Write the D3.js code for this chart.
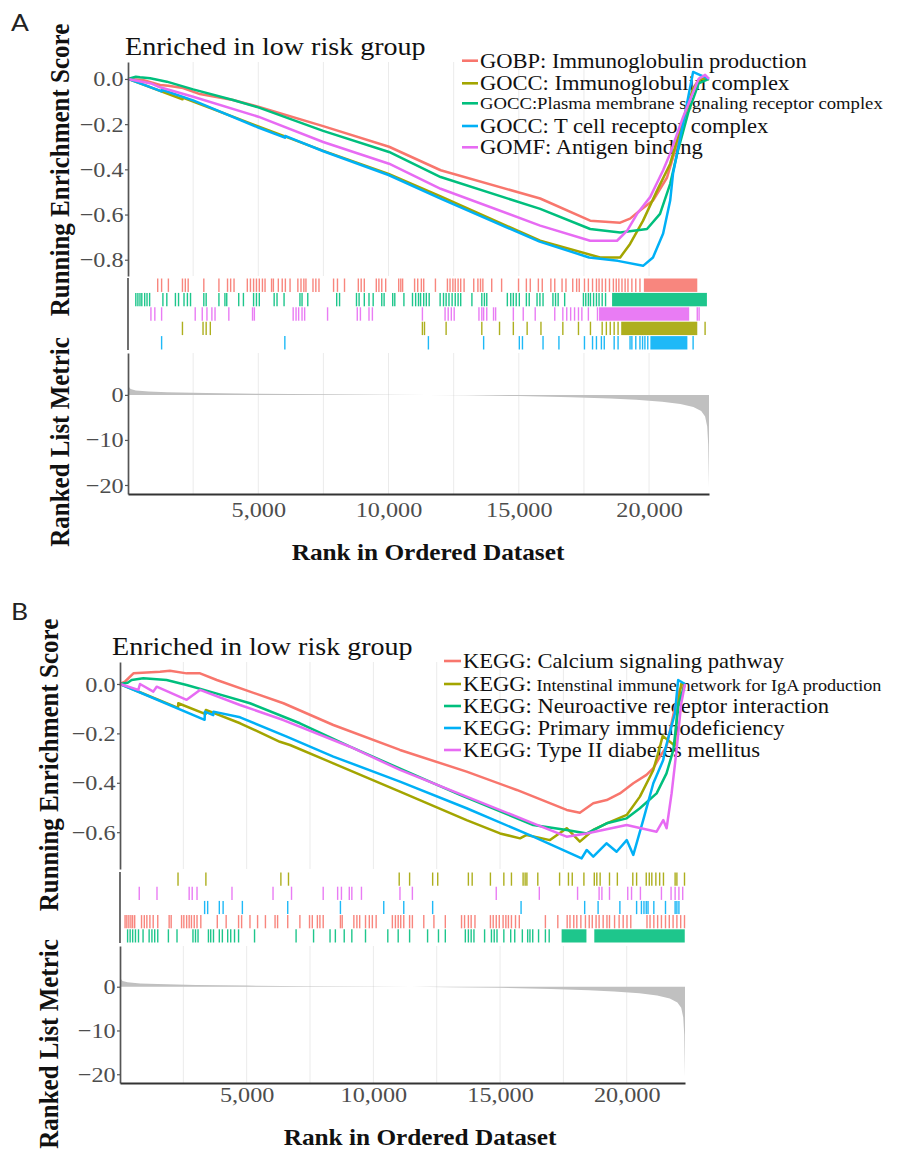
<!DOCTYPE html>
<html>
<head>
<meta charset="utf-8">
<title>GSEA enrichment plots</title>
<script src="https://cdn.jsdelivr.net/npm/d3@7/dist/d3.min.js"></script>
<style>
  body { margin: 0; background: #fff; }
  svg text { font-family: "Liberation Serif", "Times New Roman", serif; }
</style>
</head>
<body>
<svg id="chart" width="901" height="1153"></svg>
<script>
// ---- values (ranks 1..nGenes) ----
const nGenes = 22300;
const rankTicks = [5000, 10000, 15000, 20000];
const esTicksA = [0, -0.2, -0.4, -0.6, -0.8];
const esTicksB = [0, -0.2, -0.4, -0.6];
const metricTicks = [0, -10, -20];

// ranked list metric, same ranking in both panels
const metricRanks  = [1, 100, 300, 800, 1500, 3000, 5000, 7500, 10000, 11500, 13000, 15000, 17000, 18500, 19500, 20500, 21200, 21700, 22000, 22150, 22230, 22270, 22300];
const metricValues = [2.0, 1.3, 1.0, 0.75, 0.6, 0.4, 0.25, 0.12, 0.04, 0, -0.1, -0.25, -0.5, -0.8, -1.1, -1.5, -2.0, -2.7, -3.6, -4.8, -7, -11, -20.5];

const panelTitle = 'Enriched in low risk group';

// Panel A: GO sets
const setLabelsA = [
    'GOBP: Immunoglobulin production',
    'GOCC: Immunoglobulin complex',
    'GOCC:Plasma membrane signaling receptor complex',
    'GOCC: T cell receptor complex',
    'GOMF: Antigen binding'
];

const esImmProd = [[0,0],[600,-0.005],[1230,-0.027],[1550,-0.03],[2110,-0.04],[2760,-0.067],[4030,-0.093],[5000,-0.123],[7490,-0.209],[10020,-0.30],[12000,-0.404],[15820,-0.529],[17740,-0.627],[18890,-0.636],[19270,-0.618],[19650,-0.582],[20150,-0.538],[20690,-0.436],[20920,-0.347],[21300,-0.2],[21700,-0.04],[21950,0.005],[22300,0]];
const esImmComplex = [[0,0],[2090,-0.09],[2100,-0.082],[5000,-0.21],[7500,-0.318],[10000,-0.42],[12000,-0.52],[15820,-0.716],[18120,-0.79],[18890,-0.79],[19270,-0.73],[19770,-0.627],[20310,-0.493],[20810,-0.375],[21200,-0.22],[21700,-0.04],[22000,0.0],[22300,0]];
const esPlasma = [[0,0],[300,0.01],[460,0.0075],[850,0.003],[1490,-0.012],[2500,-0.046],[4030,-0.093],[5000,-0.126],[7490,-0.23],[10020,-0.323],[12000,-0.434],[15820,-0.575],[17740,-0.664],[18890,-0.679],[19920,-0.664],[20420,-0.597],[20810,-0.464],[21080,-0.33],[21500,-0.15],[21900,-0.02],[22300,0]];
const esTcell = [[0,0],[1290,-0.055],[1300,-0.048],[2500,-0.095],[5000,-0.215],[6020,-0.26],[6030,-0.252],[7500,-0.32],[10000,-0.425],[12000,-0.53],[15800,-0.72],[17700,-0.79],[18800,-0.805],[19770,-0.827],[20150,-0.79],[20540,-0.684],[20810,-0.538],[20920,-0.418],[21300,-0.2],[21690,0.031],[21900,0.02],[22300,0]];
const esAntigen = [[0,0],[880,-0.02],[1230,-0.037],[2500,-0.079],[5000,-0.167],[7490,-0.279],[10020,-0.375],[12000,-0.486],[15820,-0.649],[17740,-0.716],[18770,-0.716],[19160,-0.671],[19540,-0.597],[20040,-0.523],[20540,-0.404],[20810,-0.33],[21300,-0.17],[21900,0.0],[22150,0.018],[22300,0]];

const hitsImmProd = [1140,1290,1550,2090,2200,2310,2910,3490,3820,3940,4070,4580,4700,4820,4930,5040,5160,5260,5510,5580,5770,5920,6040,6220,6520,6640,6750,6830,7100,7210,7330,7890,8040,8310,8840,8950,9070,9530,9630,9740,9890,10390,10470,10540,11000,11120,11260,11350,11800,12260,12360,12470,12560,12670,12770,12900,13270,13430,13530,13620,13960,14340,14990,15290,15440,15750,15900,16230,16380,16660,16810,17070,17220,17320,17520,17670,17830,17980,18080,18200,18330,18480,18630,18740,18840,18960,19080,19190,19340,19490,19650];
const blocksImmProd = [[19800, 21850]];
const hitsImmComplex = [2090,2880,3000,3160,11300,11380,12210,13580,14260,14790,15320,15850,16690,17290,17750,18200,18360,18510,18660,18810,22150];
const blocksImmComplex = [[18930, 21850]];
const hitsPlasma = [300,380,460,530,640,730,830,1340,1490,1820,1940,2150,2280,2400,2910,3000,3490,3720,3790,4250,4430,4820,4930,5040,5610,5720,5990,6600,6680,6900,8010,8120,8770,8870,9070,9250,9410,9740,9830,10160,10240,10590,10920,11040,11150,11230,11350,11450,11560,11980,12110,12210,12320,12440,12560,12670,12770,13200,13580,13680,13770,14560,14690,14790,14900,15020,15290,15400,15700,15810,15930,16310,16410,16510,16760,17480,17570,17670,17750,17870,17980,18080,18200,18330];
const blocksPlasma = [[18580, 22220]];
const hitsTcell = [1290,6020,11530,13650,15020,15140,15930,16540,17520,17830,17980,18170,18280,18660,18810,19270,19340,19490,19650,19750,19840,19950,21690];
const blocksTcell = [[20050, 21470]];
const hitsAntigen = [880,1030,1290,2580,2850,3030,3220,3340,3870,4780,4850,6340,6450,6550,6680,6780,7660,8800,8920,9250,9380,11300,12170,12290,12410,12520,13470,13580,13650,13770,14030,14110,14790,15170,15630,16380,16690,16840,16990,17140,17290,17420,17670,18020,21850,21920];
const blocksAntigen = [[18080, 21540]];

// Panel B: KEGG sets
const setLabelsB = [
    'KEGG: Calcium signaling pathway',
    'KEGG: Intenstinal immune network for IgA production',
    'KEGG: Neuroactive receptor interaction',
    'KEGG: Primary immunodeficiency',
    'KEGG: Type II diabetes mellitus'
];

const esCalcium = [[0,0],[200,0.01],[530,0.043],[1580,0.05],[1970,0.054],[2630,0.043],[3160,0.043],[3820,0.016],[5130,-0.031],[6450,-0.078],[8420,-0.166],[11050,-0.267],[13680,-0.355],[15660,-0.429],[17630,-0.51],[18150,-0.521],[18680,-0.483],[19210,-0.47],[19730,-0.443],[20260,-0.402],[20780,-0.368],[21050,-0.341],[21310,-0.294],[21570,-0.254],[21850,-0.12],[22100,-0.02],[22300,0]];
const esIgA = [[0,0],[2290,-0.097],[2300,-0.078],[3380,-0.122],[3390,-0.105],[4740,-0.159],[6310,-0.234],[6710,-0.247],[8420,-0.321],[11050,-0.436],[13680,-0.551],[15000,-0.605],[15790,-0.625],[16050,-0.611],[16970,-0.632],[17630,-0.584],[18150,-0.638],[18680,-0.591],[19210,-0.564],[20000,-0.53],[20520,-0.456],[21050,-0.348],[21310,-0.254],[21420,-0.21],[21900,-0.25],[22000,-0.1],[22150,0.0],[22300,0]];
const esNeuro = [[0,0],[300,0.005],[460,0.016],[920,0.023],[1840,0.016],[2630,-0.004],[3550,-0.031],[5130,-0.078],[7100,-0.159],[9080,-0.254],[13420,-0.449],[16310,-0.571],[17630,-0.591],[18420,-0.605],[19210,-0.564],[20000,-0.544],[20520,-0.503],[21180,-0.443],[21570,-0.362],[21840,-0.267],[22050,-0.08],[22300,0]];
const esPrimary = [[0,0],[3340,-0.145],[3350,-0.112],[3680,-0.126],[3690,-0.112],[4740,-0.135],[6580,-0.213],[8420,-0.294],[11050,-0.395],[13680,-0.503],[16310,-0.618],[18220,-0.706],[18420,-0.672],[18680,-0.699],[19200,-0.645],[19600,-0.679],[20000,-0.632],[20260,-0.692],[20650,-0.551],[21050,-0.402],[21440,-0.308],[21530,-0.26],[21900,-0.12],[22030,0.016],[22300,0]];
const esDiabetes = [[0,0],[723,-0.024],[789,0],[1315,-0.031],[1447,-0.011],[2630,-0.064],[3157,-0.024],[4736,-0.085],[6445,-0.146],[9077,-0.254],[11050,-0.348],[13680,-0.456],[16311,-0.564],[17628,-0.618],[18416,-0.605],[19995,-0.571],[21179,-0.598],[21442,-0.551],[21574,-0.584],[21771,-0.443],[21968,-0.267],[22150,-0.08],[22300,0]];

const hitsCalcium = [200,270,350,430,500,580,850,960,1060,1180,1310,1490,1940,2020,2430,2520,2630,2730,2820,2930,3040,3190,3840,4190,4680,4800,5130,5430,5740,6120,6220,6620,7100,7480,7590,7790,7890,8020,8700,8770,9230,9350,9460,9690,9840,9960,10110,10750,10870,10980,11080,11200,11430,11540,11990,12390,12840,13480,13600,13750,13860,14010,14620,14730,14850,14970,15120,15230,15330,15450,15610,15760,16790,17280,17650,17760,17910,18030,18190,18370,18520,18640,18790,18910,19070,19220,19320,19520,19700,19860,20010,20160,20800,20920,21070,21220,21370,21530,21680,21830,21980,22130,22280];
const blocksCalcium = [];
const hitsIgA = [2290,3390,6350,6650,11020,11430,12340,12540,13750,13900,14620,15150,15450,15910,15990,16060,16490,17350,17700,17850,18310,18720,18820,18950,19320,19630,20240,20390,20770,20890,20990,21150,21300,21450,21910,21980,22280];
const blocksIgA = [];
const hitsNeuro = [300,400,500,610,730,910,1150,1260,1370,1490,1910,2250,2880,2980,3080,3490,3580,3690,3920,4040,4250,4370,4520,4680,5310,6950,7640,8290,8500,8850,9150,9690,10570,10980,11430,12140,12570,12840,13630,13750,13860,13970,14390,14660,14770,14880,15150,15420,15580,15880,16090,16180,16290,16520,16790,16940];
const blocksNeuro = [[17430, 18410], [18720, 22290]];
const hitsPrimary = [3340,3460,3920,4070,4830,6620,8700,10410,11200,12340,15830,18340,18870,19730,20390,20580,20680,20770,20840,21070,21530,21910,21980,22060];
const blocksPrimary = [];
const hitsDiabetes = [760,1460,2730,2850,3040,4420,6040,6770,8020,8590,8740,9050,9150,9530,11050,11540,14850,16550,18060,18910,19020,19320,20040,20190,20540,21370,21750,21910,22060,22210];
const blocksDiabetes = [];

// ---- styling ----
const palette = {red: '#F8766D', olive: '#A3A500', green: '#00BF7D', blue: '#00B0F6', magenta: '#E76BF3'};
const SX = 1.1;          // the source figure is a little stretched horizontally
const axisColor = '#555555';
const tickTextColor = '#4d4d4d';

const svg = d3.select('#chart');

class GseaPanel {
    constructor(cfg) {
        this.cfg = cfg;
        this.g = svg.append('g').attr('class', 'panel-' + cfg.tag);
        this.x = d3.scaleLinear().domain([0, nGenes]).range([cfg.left, cfg.right]);
        this.yEs = d3.scaleLinear().domain(cfg.esDomain).range([cfg.esBottom, cfg.esTop]);
        this.yRk = d3.scaleLinear().domain([-22, 9.3]).range([cfg.rkBottom, cfg.rkTop]);
    }

    draw() {
        this.drawGrid();
        this.drawLegend();
        this.drawCurves();
        this.drawRug();
        this.drawMetric();
        this.drawAxes();
        this.drawTitles();
    }

    drawGrid() {
        let cfg = this.cfg;
        let gridRanks = d3.range(2500, nGenes, 2500);
        [[cfg.esTop, cfg.esBottom], [cfg.rkTop, cfg.rkBottom]].forEach((span) => {
            this.g.append('g')
                .selectAll('line')
                .data(gridRanks)
                .enter()
                .append('line')
                .attr('x1', (d) => this.x(d))
                .attr('x2', (d) => this.x(d))
                .attr('y1', span[0])
                .attr('y2', span[1])
                .attr('stroke', '#ebebeb')
                .attr('stroke-width', 1);
        });
    }

    drawLegend() {
        let cfg = this.cfg;
        let legend = this.g.append('g').attr('class', 'legend');
        cfg.legend.rows.forEach((cy, i) => {
            let s = cfg.sets[i];
            legend.append('line')
                .attr('x1', cfg.legend.x)
                .attr('x2', cfg.legend.x + cfg.legend.keyLen)
                .attr('y1', cy)
                .attr('y2', cy)
                .attr('stroke', s.color)
                .attr('stroke-width', 2.6);
            let base = (s.smallFrom === 0) ? cy + 5.5 : cy + 7;
            let t = legend.append('text')
                .attr('transform', `translate(${cfg.legend.x + cfg.legend.keyLen + 2},${base}) scale(${SX},1)`)
                .attr('font-size', 20.5)
                .attr('fill', '#111');
            if (s.smallFrom == null) {
                t.text(s.label);
            } else {
                t.append('tspan').text(s.label.slice(0, s.smallFrom));
                t.append('tspan').attr('font-size', cfg.legend.smallSize).text(s.label.slice(s.smallFrom));
            }
        });
    }

    drawCurves() {
        let line = d3.line()
            .x((d) => this.x(d[0]))
            .y((d) => this.yEs(d[1]));
        this.g.append('g')
            .selectAll('path')
            .data(this.cfg.sets)
            .enter()
            .append('path')
            .attr('d', (d) => line(d.es))
            .attr('fill', 'none')
            .attr('stroke', (d) => d.color)
            .attr('stroke-width', 2.5)
            .attr('stroke-linejoin', 'round');
    }

    drawRug() {
        let cfg = this.cfg;
        let rowH = (cfg.rugBottom - cfg.rugTop) / cfg.rugOrder.length;
        cfg.rugOrder.forEach((si, row) => {
            let s = cfg.sets[si];
            let y0 = cfg.rugTop + row * rowH;
            let rowG = this.g.append('g').attr('opacity', 0.88);
            rowG.selectAll('line')
                .data(s.hits)
                .enter()
                .append('line')
                .attr('x1', (d) => this.x(d))
                .attr('x2', (d) => this.x(d))
                .attr('y1', y0 + 0.5)
                .attr('y2', y0 + rowH - 0.5)
                .attr('stroke', s.color)
                .attr('stroke-width', 1.4);
            rowG.selectAll('rect')
                .data(s.blocks)
                .enter()
                .append('rect')
                .attr('x', (d) => this.x(d[0]))
                .attr('width', (d) => this.x(d[1]) - this.x(d[0]))
                .attr('y', y0 + 0.5)
                .attr('height', rowH - 1)
                .attr('fill', s.color);
        });
    }

    drawMetric() {
        let pts = metricRanks.map((r, i) => [r, metricValues[i]]);
        let area = d3.area()
            .x((d) => this.x(d[0]))
            .y0(this.yRk(0))
            .y1((d) => this.yRk(d[1]));
        this.g.append('path')
            .attr('d', area(pts))
            .attr('fill', '#c0c0c0')
            .attr('stroke', 'none');
    }

    styleAxis(sel, size) {
        sel.attr('font-family', null).attr('font-size', null);
        sel.select('.domain').attr('stroke', axisColor).attr('stroke-width', 1.7);
        sel.selectAll('.tick line').attr('stroke', axisColor).attr('stroke-width', 1.2);
        sel.selectAll('.tick text')
            .attr('fill', tickTextColor)
            .attr('font-size', size)
            .attr('transform', `scale(${SX},1)`);
    }

    drawAxes() {
        let cfg = this.cfg;
        let esAxis = d3.axisLeft(this.yEs)
            .tickValues(cfg.esTicks)
            .tickFormat(d3.format('.1f'))
            .tickSize(3)
            .tickSizeOuter(0)
            .tickPadding(1);
        let a1 = this.g.append('g').attr('transform', `translate(${cfg.left},0)`).call(esAxis);
        this.styleAxis(a1, 22);

        // rug panel only has its axis line
        this.g.append('line')
            .attr('x1', cfg.left).attr('x2', cfg.left)
            .attr('y1', cfg.rugTop).attr('y2', cfg.rugBottom)
            .attr('stroke', axisColor).attr('stroke-width', 1.7);

        let rkAxis = d3.axisLeft(this.yRk)
            .tickValues(metricTicks)
            .tickFormat(d3.format('d'))
            .tickSize(3)
            .tickSizeOuter(0)
            .tickPadding(1);
        let a2 = this.g.append('g').attr('transform', `translate(${cfg.left},0)`).call(rkAxis);
        this.styleAxis(a2, 22);

        let xAxis = d3.axisBottom(this.x)
            .tickValues(rankTicks)
            .tickFormat(d3.format(','))
            .tickSize(0)
            .tickSizeOuter(0);
        let a3 = this.g.append('g').attr('transform', `translate(0,${cfg.rkBottom})`).call(xAxis);
        this.styleAxis(a3, 22);
        a3.select('.domain').attr('stroke', '#333').attr('stroke-width', 1.9);
        a3.selectAll('.tick text')
            .attr('y', cfg.xLabelY - cfg.rkBottom)
            .attr('dy', null);
    }

    drawTitles() {
        let cfg = this.cfg;
        svg.append('text')
            .attr('transform', `translate(${cfg.tagPos[0]},${cfg.tagPos[1]}) scale(${SX},1)`)
            .style('font-family', 'Lato, "Open Sans", sans-serif')
            .attr('font-size', 24)
            .attr('fill', '#222')
            .text(cfg.tag);

        this.g.append('text')
            .attr('transform', `translate(${cfg.titlePos[0]},${cfg.titlePos[1]}) scale(${SX},1)`)
            .attr('font-size', 25.5)
            .attr('fill', '#111')
            .text(panelTitle);

        this.g.append('text')
            .attr('transform', `translate(${cfg.xTitlePos[0]},${cfg.xTitlePos[1]}) scale(${SX},1)`)
            .attr('text-anchor', 'middle')
            .attr('font-size', 23)
            .attr('font-weight', 'bold')
            .attr('fill', '#111')
            .text('Rank in Ordered Dataset');

        [['Running Enrichment Score', cfg.esTitleY], ['Ranked List Metric', cfg.rkTitleY]].forEach((t) => {
            this.g.append('text')
                .attr('transform', `translate(${cfg.yTitleX},${t[1]}) scale(${SX},1) rotate(-90)`)
                .attr('text-anchor', 'middle')
                .attr('font-size', 25)
                .attr('font-weight', 'bold')
                .attr('fill', '#111')
                .text(t[0]);
        });
    }
}

const panelA = new GseaPanel({
    tag: 'A', tagPos: [11, 31],
    left: 128, right: 709,
    esTop: 62, esBottom: 276, esDomain: [-0.872, 0.075], esTicks: esTicksA,
    rugTop: 278, rugBottom: 350,
    rkTop: 353, rkBottom: 494,
    xLabelY: 517, xTitlePos: [428, 560],
    yTitleX: 69, esTitleY: 170, rkTitleY: 442,
    titlePos: [125, 55],
    legend: {x: 462, keyLen: 16, smallSize: 17, rows: [60.7, 83.3, 103.3, 126, 147.3]},
    rugOrder: [0, 2, 4, 1, 3],
    sets: [
        {label: setLabelsA[0], color: palette.red, es: esImmProd, hits: hitsImmProd, blocks: blocksImmProd},
        {label: setLabelsA[1], color: palette.olive, es: esImmComplex, hits: hitsImmComplex, blocks: blocksImmComplex},
        {label: setLabelsA[2], color: palette.green, es: esPlasma, hits: hitsPlasma, blocks: blocksPlasma, smallFrom: 0},
        {label: setLabelsA[3], color: palette.blue, es: esTcell, hits: hitsTcell, blocks: blocksTcell},
        {label: setLabelsA[4], color: palette.magenta, es: esAntigen, hits: hitsAntigen, blocks: blocksAntigen}
    ]
});

const panelB = new GseaPanel({
    tag: 'B', tagPos: [11, 620],
    left: 120, right: 685,
    esTop: 662, esBottom: 869, esDomain: [-0.749, 0.089], esTicks: esTicksB,
    rugTop: 872, rugBottom: 943,
    rkTop: 946, rkBottom: 1083,
    xLabelY: 1102, xTitlePos: [420, 1145],
    yTitleX: 58, esTitleY: 765, rkTitleY: 1044,
    titlePos: [112, 655],
    legend: {x: 444, keyLen: 17, smallSize: 16.5, rows: [661, 684, 706, 728, 750]},
    rugOrder: [1, 4, 3, 0, 2],
    sets: [
        {label: setLabelsB[0], color: palette.red, es: esCalcium, hits: hitsCalcium, blocks: blocksCalcium},
        {label: setLabelsB[1], color: palette.olive, es: esIgA, hits: hitsIgA, blocks: blocksIgA, smallFrom: 5},
        {label: setLabelsB[2], color: palette.green, es: esNeuro, hits: hitsNeuro, blocks: blocksNeuro},
        {label: setLabelsB[3], color: palette.blue, es: esPrimary, hits: hitsPrimary, blocks: blocksPrimary},
        {label: setLabelsB[4], color: palette.magenta, es: esDiabetes, hits: hitsDiabetes, blocks: blocksDiabetes}
    ]
});

panelA.draw();
panelB.draw();
</script>
</body>
</html>
